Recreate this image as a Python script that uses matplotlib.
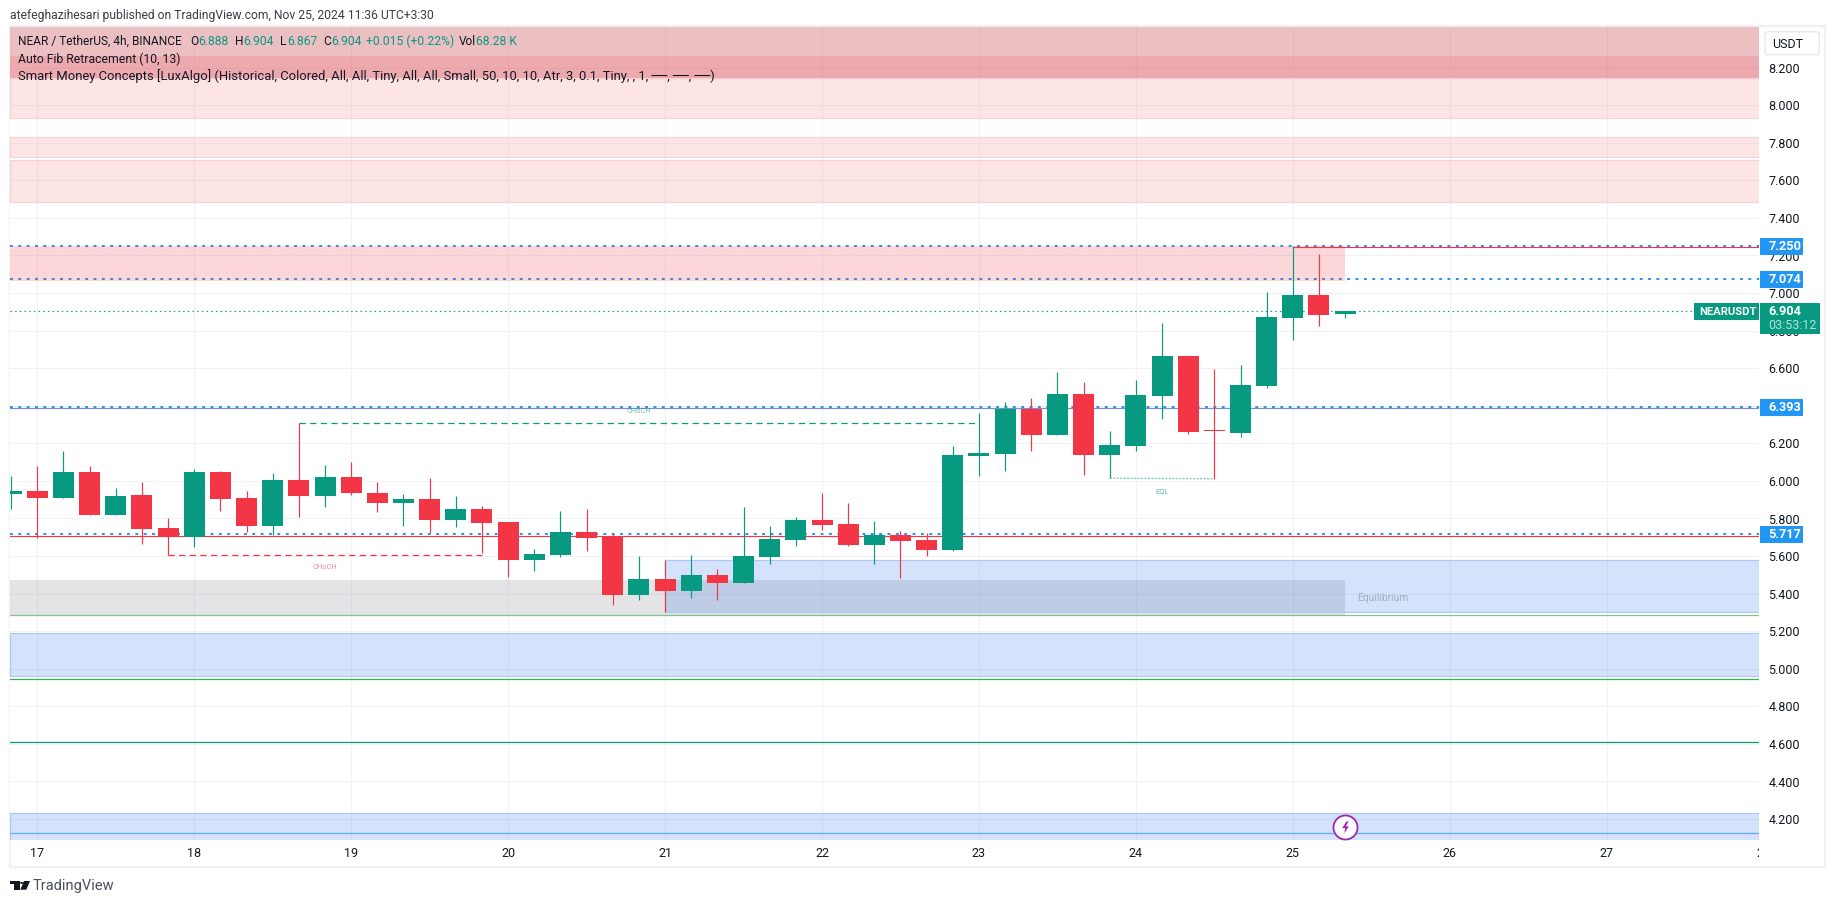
import matplotlib
matplotlib.use("Agg")
import matplotlib.pyplot as plt
from matplotlib.patches import Rectangle, Polygon, FancyBboxPatch, Circle
from matplotlib.transforms import Bbox

plt.rcParams['font.family'] = ['Roboto', 'DejaVu Sans']

W, H = 1835, 903
GREEN = '#089981'
RED = '#f23645'
BLUE = '#2196f3'
ZONE_BLUE = '#296eeb'
TEXT = '#131722'

# candles: bar index counted in 4h steps from day 17 00:00
bar_index = list(range(-1, 51))
opens = [5.931, 5.947, 5.910, 6.048, 5.819, 5.925, 5.750, 5.702, 6.048, 5.910, 5.760, 6.005, 5.920,
         6.021, 5.936, 5.883, 5.904, 5.792, 5.851, 5.782, 5.579, 5.606, 5.728, 5.702, 5.393, 5.478,
         5.414, 5.499, 5.457, 5.595, 5.686, 5.792, 5.771, 5.659, 5.712, 5.686, 5.633, 6.133, 6.144,
         6.383, 6.245, 6.463, 6.138, 6.186, 6.453, 6.666, 6.266, 6.256, 6.506, 6.868, 6.990, 6.888]
closes = [5.947, 5.910, 6.048, 5.819, 5.920, 5.744, 5.702, 6.048, 5.904, 5.760, 6.005, 5.920, 6.021,
          5.936, 5.883, 5.904, 5.792, 5.851, 5.776, 5.579, 5.611, 5.728, 5.696, 5.393, 5.478, 5.414,
          5.499, 5.457, 5.601, 5.691, 5.792, 5.766, 5.659, 5.712, 5.681, 5.633, 6.138, 6.149, 6.383,
          6.245, 6.463, 6.138, 6.192, 6.458, 6.666, 6.261, 6.263, 6.511, 6.873, 6.990, 6.884, 6.904]
highs = [6.027, 6.080, 6.160, 6.080, 5.963, 5.995, 5.803, 6.064, 6.053, 5.947, 6.043, 6.307, 6.085,
         6.101, 5.995, 5.931, 6.016, 5.920, 5.867, 5.782, 5.638, 5.840, 5.851, 5.718, 5.601, 5.579,
         5.606, 5.531, 5.862, 5.760, 5.808, 5.936, 5.883, 5.787, 5.734, 5.723, 6.186, 6.362, 6.421,
         6.442, 6.580, 6.527, 6.266, 6.538, 6.841, 6.666, 6.596, 6.618, 7.006, 7.251, 7.209, 6.904]
lows = [5.851, 5.696, 5.910, 5.819, 5.819, 5.665, 5.604, 5.649, 5.840, 5.728, 5.712, 5.808, 5.862,
        5.925, 5.835, 5.760, 5.723, 5.755, 5.617, 5.489, 5.521, 5.595, 5.627, 5.340, 5.366, 5.302,
        5.377, 5.366, 5.457, 5.558, 5.654, 5.739, 5.654, 5.558, 5.483, 5.601, 5.627, 6.027, 6.053,
        6.160, 6.245, 6.032, 6.014, 6.160, 6.330, 6.250, 6.011, 6.234, 6.495, 6.751, 6.825, 6.867]

# axis labels
price_ticks = [4.2, 4.4, 4.6, 4.8, 5.0, 5.2, 5.4, 5.6, 5.8, 6.0, 6.2, 6.4, 6.6, 6.8, 7.0, 7.2, 7.4, 7.6, 7.8, 8.0, 8.2]
day_positions = [0, 6, 12, 18, 24, 30, 36, 42, 48, 54, 60]
day_labels = ['17', '18', '19', '20', '21', '22', '23', '24', '25', '26', '27']

# zones: x start, x end, price low, price high
X_MIN, X_MAX = -1.044, 65.83
Y_MIN, Y_MAX = 4.088, 8.417
dark_zone = (X_MIN, X_MAX, 8.146, 8.417)
darker_zone = (X_MIN, X_MAX, 8.146, 8.263)
pale_zones = [(X_MIN, X_MAX, 7.931, 8.146), (X_MIN, X_MAX, 7.722, 7.832), (X_MIN, X_MAX, 7.487, 7.709)]
strong_zone = (X_MIN, 50.0, 7.065, 7.251)
grey_zone = (X_MIN, 50.0, 5.286, 5.473)
blue_zones = [(24, X_MAX, 5.304, 5.578), (X_MIN, X_MAX, 4.963, 5.190), (X_MIN, X_MAX, 4.0, 4.230)]

# levels
fib_levels = [7.250, 7.074, 6.393, 5.717]
fib_labels = ['7.250', '7.074', '6.393', '5.717']
last_price = 6.904


def fx(x):
    return x / W


def fy(y):
    return 1 - y / H


fig = plt.figure(figsize=((W + 0.2) / 100, (H + 0.2) / 100), dpi=100, facecolor='white')
ax = fig.add_axes([fx(10), fy(840), (1759 - 10) / W, (840 - 27) / H])
ax.set_xlim(X_MIN, X_MAX)
ax.set_ylim(Y_MIN, Y_MAX)
for s in ax.spines.values():
    s.set_visible(False)
ax.set_axisbelow(True)
ax.grid(True, color='#f1f2f5', lw=0.8)
ax.yaxis.tick_right()
ax.set_yticks(price_ticks)
ax.set_yticklabels([f'{p:.3f}' for p in price_ticks])
ax.set_xticks(day_positions)
ax.set_xticklabels(day_labels)
ax.tick_params(axis='both', length=0, labelsize=9, labelcolor=TEXT)
ax.tick_params(axis='y', pad=6.5)
ax.tick_params(axis='x', pad=5)

# outer frame
fig.add_artist(Rectangle((fx(9.5), fy(867.5)), (1825 - 9.5) / W, (867.5 - 26.5) / H, transform=fig.transFigure,
                         fill=False, ec='#f0f1f6', lw=1.6, zorder=0))


def zone(z, color, alpha, edge=None, zorder=2.0):
    x0, x1, lo, hi = z
    ax.add_patch(Rectangle((x0, lo), x1 - x0, hi - lo, fc=color, alpha=alpha, lw=0, zorder=zorder))
    if edge:
        ax.add_patch(Rectangle((x0, lo), x1 - x0, hi - lo, fill=False, ec=edge, lw=0.8, zorder=zorder))


# dotted levels sit beneath the translucent zones
for lv in fib_levels:
    ax.plot([X_MIN, X_MAX], [lv, lv], color=BLUE, lw=1.45, ls=(0, (1.4, 2.75)), dash_capstyle='butt', zorder=1.5)

zone(dark_zone, '#c94851', 0.35)
zone(darker_zone, '#f6565e', 0.2)
ax.plot([X_MIN, X_MAX], [8.146, 8.146], color='#e57f85', lw=0.8, zorder=2)
for z in pale_zones:
    zone(z, RED, 0.13, edge='#fbd0d3')
zone(strong_zone, RED, 0.2)
zone(grey_zone, '#787b86', 0.2)
for z in blue_zones:
    zone(z, ZONE_BLUE, 0.2, edge='#adc7f7')

# solid structure lines
ax.plot([X_MIN, X_MAX], [6.387, 6.387], color='#7f8fc4', lw=0.85, zorder=2.5)
ax.plot([X_MIN, X_MAX], [5.708, 5.708], color=RED, lw=0.85, zorder=2.5)
ax.plot([48, X_MAX], [7.244, 7.244], color=RED, lw=0.85, zorder=2.5)
ax.plot([X_MIN, X_MAX], [5.285, 5.285], color='#7fc48a', lw=0.9, zorder=2.5)
ax.plot([X_MIN, X_MAX], [4.947, 4.947], color='#3fae47', lw=0.9, zorder=2.5)
ax.plot([X_MIN, X_MAX], [4.609, 4.609], color=GREEN, lw=0.9, zorder=2.5)
ax.plot([X_MIN, X_MAX], [4.124, 4.124], color='#5aaef5', lw=0.9, zorder=2.5)

# structure break annotations
ax.plot([10, 36], [6.307, 6.307], color=GREEN, lw=0.9, ls=(0, (5, 3.5)), zorder=2.5)
ax.plot([5, 17], [5.604, 5.604], color=RED, lw=0.9, ls=(0, (5, 3.5)), zorder=2.5)
ax.plot([41, 45], [6.014, 6.011], color=GREEN, alpha=0.5, lw=1.0, ls=(0, (1.5, 1)), zorder=2.5)
ax.text(23, 6.371, 'CHoCH', color=GREEN, alpha=0.6, fontsize=5.4, ha='center', va='center', zorder=2.5)
ax.text(11, 5.538, 'CHoCH', color=RED, alpha=0.6, fontsize=5.4, ha='center', va='center', zorder=2.5)
ax.text(43, 5.943, 'EQL', color=GREEN, alpha=0.65, fontsize=5.4, ha='center', va='center', zorder=2.5)
ax.text(50.45, 5.377, 'Equilibrium', color='#787b86', alpha=0.5, fontsize=7.4, ha='left', va='center', zorder=2.5)

# last price line
ax.plot([X_MIN, 63.3], [last_price, last_price], color=GREEN, lw=0.8, ls=(0, (1.3, 2.9)), zorder=2.5)

# candles
colors = [GREEN if c >= o else RED for o, c in zip(opens, closes)]
ax.vlines(bar_index, lows, highs, colors=colors, lw=0.85, zorder=3)
ax.bar(bar_index, [max(abs(c - o), 0.006) for o, c in zip(opens, closes)],
       bottom=[min(o, c) for o, c in zip(opens, closes)], width=0.803, color=colors, lw=0, zorder=3.1)

# lightning icon
ax.scatter([50], [4.158], s=300, facecolor='white', edgecolor='#9c27b0', lw=1.3, zorder=4)
ax.scatter([50], [4.158], s=75, color='#9c27b0', lw=0, zorder=4.1,
           marker=[(0.15, 1), (-0.55, -0.1), (-0.05, -0.1), (-0.2, -1), (0.55, 0.2), (0.05, 0.2), (0.5, 1)])

# clipped next-day label
t28 = ax.text(66, -0.0165, '28', transform=ax.get_xaxis_transform(), color=TEXT, fontsize=9, ha='center', va='center')
t28.set_clip_box(Bbox([[0, 0], [1759, H]]))
t28.set_clip_on(True)


def label(x, y, s, **kw):
    kw.setdefault('color', TEXT)
    kw.setdefault('fontsize', 8.7)
    kw.setdefault('va', 'center')
    return fig.text(fx(x), fy(y), s, **kw)


def box(x0, y0, x1, y1, color, z=5):
    fig.add_artist(FancyBboxPatch((fx(x0), fy(y1)), (x1 - x0) / W, (y1 - y0) / H, transform=fig.transFigure,
                                  boxstyle='square,pad=0', fc=color, ec='none', zorder=z))


# price labels
for lbl, yc in zip(fib_labels, [246.7, 279.5, 407.5, 534.5]):
    box(1760, yc - 8.5, 1803, yc + 8.5, BLUE)
    label(1768, yc, lbl, color='white', fontweight='bold', fontsize=9.2, zorder=6)
box(1760, 303, 1820, 334, GREEN)
label(1768, 311.7, '6.904', color='white', fontweight='bold', fontsize=9.2, zorder=6)
label(1768, 325.7, '03:53:12', color='#b5e3da', fontsize=9, zorder=6)
box(1694, 303, 1759, 320, GREEN)
label(1699, 311.7, 'NEARUSDT', color='white', fontweight='bold', fontsize=8.1, zorder=6)

# currency button
fig.add_artist(FancyBboxPatch((fx(1765), fy(55)), 54 / W, 23 / H, transform=fig.transFigure,
                              boxstyle='round,pad=0,rounding_size=0.002', fc='white', ec='#e0e3eb', lw=0.8, zorder=5))
label(1772, 44, 'USDT', fontsize=9, zorder=6)

# header and legend
label(10, 15, 'atefeghazihesari published on TradingView.com, Nov 25, 2024 11:36 UTC+3:30', color='#3a3d45', fontsize=8.7)
legend_black = [(18, 'NEAR / TetherUS, 4h, BINANCE'), (190, 'O'), (235, 'H'), (280, 'L'), (323, 'C'), (459, 'Vol')]
legend_green = [(198.5, '6.888'), (243, '6.904'), (287, '6.867'), (331, '6.904'), (366, '+0.015 (+0.22%)'), (475.5, '68.28 K')]
for x, s in legend_black:
    label(x, 41.7, s, fontsize=8.6)
for x, s in legend_green:
    label(x, 41.7, s, color=GREEN, fontsize=8.7)
label(18, 59, 'Auto Fib Retracement (10, 13)', fontsize=8.8)
label(18, 76, 'Smart Money Concepts [LuxAlgo] (Historical, Colored, All, All, Tiny, All, All, Small, 50, 10, 10, Atr, 3, 0.1, Tiny, , 1, ──, ──, ──)', fontsize=9.4)

# TradingView mark
for pts in ([(10, 881), (19.5, 881), (19.5, 889.7), (14.2, 889.7), (14.2, 884.5), (10, 884.5)],
            [(24, 881), (30, 881), (26.3, 889.7), (20.3, 889.7)]):
    fig.add_artist(Polygon([(fx(a), fy(b)) for a, b in pts], closed=True, transform=fig.transFigure, fc='#131722', ec='none'))
fig.add_artist(Circle((fx(21.8), fy(882.9)), 1.9 / W, transform=fig.transFigure, fc='#131722', ec='none'))
label(33, 885.7, 'TradingView', color='#4a4e59', fontsize=10.5)

fig.savefig('out.png', dpi=100)
